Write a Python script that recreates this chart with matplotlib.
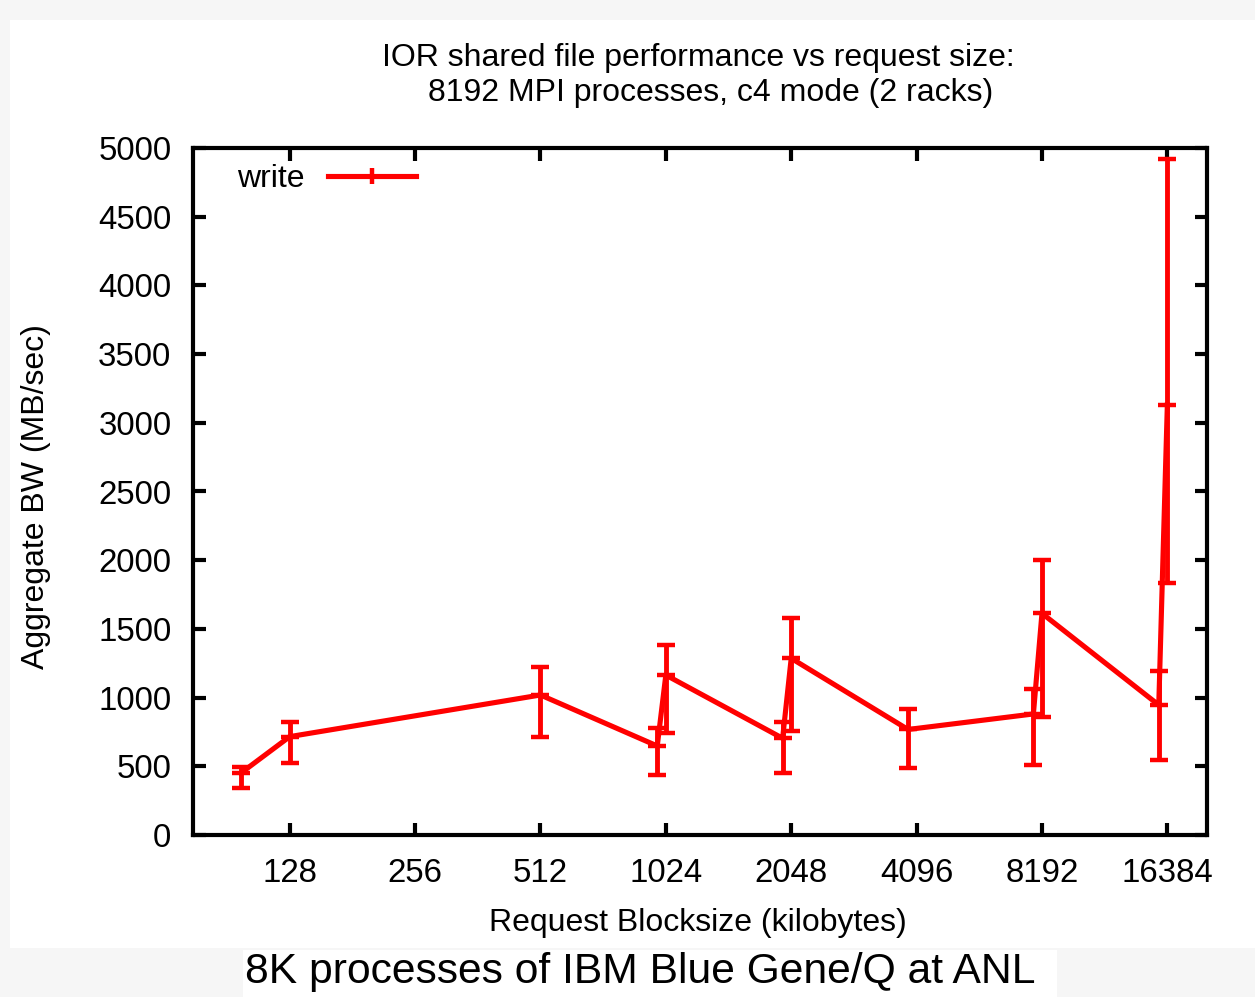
import matplotlib
matplotlib.use("Agg")
import matplotlib.pyplot as plt
from matplotlib.patches import Rectangle
from matplotlib.lines import Line2D

# ---- data ----
block_kb = [97.65625, 128, 512, 976.5625, 1024, 1953.125, 2048, 3906.25, 7812.5, 8192, 15625, 16384]
bw_mean = [450, 716, 1019, 648, 1164, 704, 1286, 768, 881, 1613, 946, 3130]
bw_min = [340, 526, 710, 434, 745, 453, 757, 490, 513, 856, 546, 1832]
bw_max = [495, 825, 1224, 776, 1383, 820, 1576, 917, 1060, 2005, 1193, 4920]
xtick_vals = [128, 256, 512, 1024, 2048, 4096, 8192, 16384]
xtick_labels = [str(v) for v in xtick_vals]
ytick_vals = list(range(0, 5001, 500))

W, H = 1255, 997
plt.rcParams['font.family'] = ['Liberation Sans', 'DejaVu Sans']
fig = plt.figure(figsize=(W / 100, H / 100), dpi=100, facecolor='#f6f6f6')

def fx(px):
    return px / W

def fy(py):
    return 1 - py / H

# white panels
fig.patches.append(Rectangle((fx(10), fy(948)), fx(1255) - fx(10), fy(20) - fy(948),
                             transform=fig.transFigure, facecolor='white', edgecolor='none', zorder=-10))
fig.patches.append(Rectangle((fx(243), fy(997)), fx(1057) - fx(243), fy(950) - fy(997),
                             transform=fig.transFigure, facecolor='white', edgecolor='none', zorder=-10))

ax = fig.add_axes([fx(193), fy(835), fx(1207) - fx(193), fy(148) - fy(835)])
ax.set_zorder(5)
ax.set_facecolor('white')

red = '#ff0000'
lower = [m - lo for m, lo in zip(bw_mean, bw_min)]
upper = [hi - m for m, hi in zip(bw_mean, bw_max)]
ax.errorbar(block_kb, bw_mean, yerr=[lower, upper], color=red, lw=3.7,
            elinewidth=3.5, capsize=6.5, capthick=3.2, marker='_', markersize=13,
            markeredgewidth=3.2, zorder=3)

ax.set_xscale('log', base=2)
ax.set_xlim(75, 20400)
ax.set_ylim(0, 5000)
ax.set_xticks(xtick_vals)
ax.set_xticklabels(xtick_labels)
ax.xaxis.set_minor_locator(matplotlib.ticker.NullLocator())
ax.set_yticks(ytick_vals)

for s in ax.spines.values():
    s.set_linewidth(3)
    s.set_color('black')

FS = 23
ax.tick_params(axis='both', which='major', direction='in', length=9, width=3,
               top=True, right=True, labelsize=23.8, colors='black')
ax.tick_params(axis='x', pad=16.5)
ax.tick_params(axis='y', pad=15.5)

# legend
h = Line2D([], [], color=red, lw=3.7, marker='|', markersize=12, markeredgewidth=3.2)
axw = fx(1207) - fx(193)
leg = ax.legend([h], ['write'], loc='upper left', bbox_to_anchor=((fx(221) - fx(193)) / axw, 1.0),
                frameon=False, markerfirst=False, fontsize=FS, handlelength=2.75,
                handletextpad=0.75, borderaxespad=0.1)

# texts
fig.text(fx(698), fy(58), 'IOR shared file performance vs request size:', ha='center', va='center', fontsize=FS)
fig.text(fx(711), fy(93), '8192 MPI processes, c4 mode (2 racks)', ha='center', va='center', fontsize=FS)
fig.text(fx(698), fy(923), 'Request Blocksize (kilobytes)', ha='center', va='center', fontsize=FS)
fig.text(fx(36), fy(497), 'Aggregate BW (MB/sec)', ha='center', va='center', rotation=90, fontsize=FS)
fig.text(fx(640), fy(972), '8K processes of IBM Blue Gene/Q at ANL', ha='center', va='center', fontsize=30.7)

fig.savefig('out.png', dpi=100, facecolor=fig.get_facecolor())
